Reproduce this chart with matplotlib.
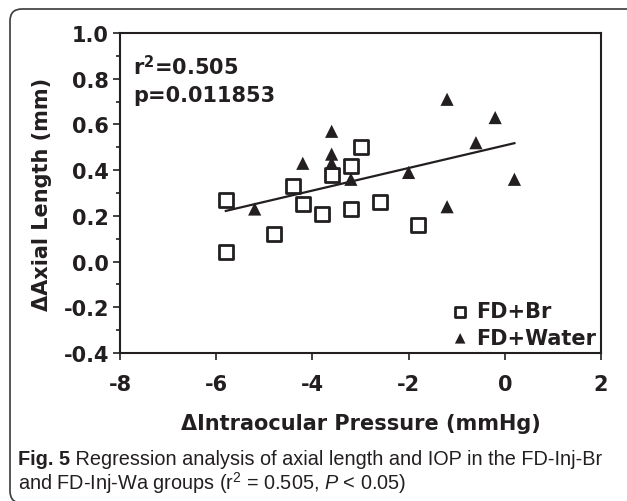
import numpy as np
import matplotlib
matplotlib.use("Agg")
import matplotlib.pyplot as plt
from matplotlib.patches import FancyBboxPatch
from matplotlib.transforms import IdentityTransform
from matplotlib.ticker import MultipleLocator

# data
br_x = [-5.8, -5.8, -4.8, -4.4, -4.2, -3.8, -3.6, -3.2, -3.2, -3.0, -2.6, -1.8]
br_y = [0.27, 0.04, 0.12, 0.33, 0.25, 0.21, 0.38, 0.42, 0.23, 0.50, 0.26, 0.16]
wa_x = [-5.2, -4.2, -3.6, -3.6, -3.6, -3.2, -2.0, -1.2, -1.2, -0.6, -0.2, 0.2]
wa_y = [0.23, 0.43, 0.57, 0.47, 0.43, 0.36, 0.39, 0.71, 0.24, 0.52, 0.63, 0.36]
x_ticks = [-8, -6, -4, -2, 0, 2]
y_ticks = [-0.4, -0.2, 0.0, 0.2, 0.4, 0.6, 0.8, 1.0]
stats_text = ["r$^\\mathbf{2}$=0.505", "p=0.011853"]

ink = "#231f20"
bold_font = "DejaVu Sans"
cap_font = ["Liberation Sans", "DejaVu Sans"]

plt.rcParams["mathtext.fontset"] = "custom"
plt.rcParams["mathtext.rm"] = "Liberation Sans"
plt.rcParams["mathtext.it"] = "Liberation Sans:italic"
plt.rcParams["mathtext.bf"] = "DejaVu Sans:bold"

fig = plt.figure(figsize=(6.27, 5.02), dpi=100)
ax = fig.add_axes([120 / 627, 1 - 354 / 502, 481 / 627, 320 / 502])

ax.scatter(br_x, br_y, marker="s", s=90, facecolor="white", edgecolor=ink,
           linewidth=2.0, zorder=3, label="FD+Br")
ax.scatter(wa_x, wa_y, marker="^", s=90, facecolor=ink, edgecolor="none",
           zorder=3, label="FD+Water")

# combined linear regression
all_x = np.array(br_x + wa_x)
all_y = np.array(br_y + wa_y)
k, b = np.polyfit(all_x, all_y, 1)
fx = np.array([all_x.min(), all_x.max()])
ax.plot(fx, k * fx + b, color=ink, lw=1.6, zorder=2)

ax.set_xlim(-8, 2)
ax.set_ylim(-0.4, 1.0)
ax.set_xticks(x_ticks)
ax.set_yticks(y_ticks)
ax.yaxis.set_minor_locator(MultipleLocator(0.1))
ax.set_xticklabels([str(t) for t in x_ticks])
ax.set_yticklabels(["%.1f" % t for t in y_ticks])
for s in ax.spines.values():
    s.set_linewidth(1.5)
    s.set_color(ink)
ax.tick_params(axis="both", which="major", length=5, width=1.2, color=ink,
               labelsize=15, labelcolor=ink)
ax.tick_params(axis="y", which="minor", length=3, width=1.2, color=ink)
ax.tick_params(axis="x", pad=10)
ax.tick_params(axis="y", pad=3)
for lab in ax.get_xticklabels() + ax.get_yticklabels():
    lab.set_fontweight("bold")
    lab.set_family(bold_font)

ax.set_xlabel("\u0394Intraocular Pressure (mmHg)", fontsize=15, fontweight="bold",
              family=bold_font, color=ink, labelpad=14)
ax.set_ylabel("\u0394Axial Length (mm)", fontsize=15, fontweight="bold",
              family=bold_font, color=ink, labelpad=8)

ax.text(0.027, 0.872, stats_text[0], transform=ax.transAxes, fontsize=15,
        fontweight="bold", family=bold_font, color=ink, va="baseline")
ax.text(0.027, 0.788, stats_text[1], transform=ax.transAxes, fontsize=15,
        fontweight="bold", family=bold_font, color=ink, va="baseline")

leg = ax.legend(loc="lower right", bbox_to_anchor=(1.0, 0.0), frameon=False,
                prop={"family": bold_font, "weight": "bold", "size": 15},
                handletextpad=0.25, labelspacing=0.32, borderaxespad=0.15,
                borderpad=0.1, markerscale=0.8, handlelength=1.0)
for t in leg.get_texts():
    t.set_color(ink)

# caption
t1 = fig.text(18 / 627, 1 - 465 / 502, "Fig. 5", fontsize=14.3, fontweight="bold",
              family=cap_font, color=ink, va="baseline")
ax.annotate(" Regression analysis of axial length and IOP in the FD-Inj-Br",
            xy=(1, 0), xycoords=t1, va="bottom", ha="left", fontsize=14.3,
            family=cap_font, color=ink, annotation_clip=False)
fig.text(18 / 627, 1 - 490 / 502,
         "and FD-Inj-Wa groups (r$^2$ = 0.505, $P$ < 0.05)",
         fontsize=14.3, family=cap_font, color=ink, va="baseline")

# rounded frame around the whole figure (pixel coords)
frame = FancyBboxPatch((10, -2), 640, 494,
                       boxstyle="round,pad=0,rounding_size=12",
                       transform=IdentityTransform(), fill=False,
                       edgecolor="#3a3a3a", linewidth=1.2)
fig.patches.append(frame)

fig.savefig("out.png", dpi=100)
